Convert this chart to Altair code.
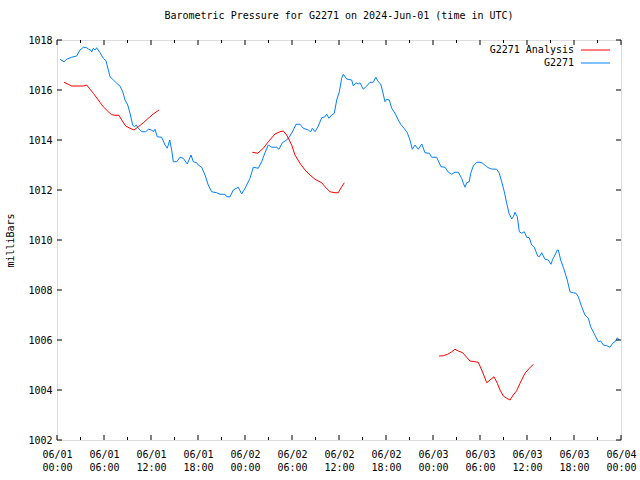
import altair as alt
import pandas as pd

MONO = "DejaVu Sans Mono"

# Observed station G2271 (hours since 2024-06-01 00:00 UTC, pressure in mb)
blue_h = [0.38, 0.89, 1.24, 1.88, 2.51, 2.94, 3.36, 3.79, 4.00, 4.30, 4.43, 4.63, 4.85, 5.07, 5.49, 5.91,
          6.26, 6.55, 6.77, 7.19, 7.62, 8.04, 8.39, 8.68, 9.03, 9.32, 9.66, 9.87, 10.12, 10.38, 10.81,
          11.32, 11.66, 12.09, 12.29, 12.51, 12.80, 13.37, 13.79, 14.08, 14.39, 14.64, 14.85, 15.28,
          15.70, 16.12, 16.63, 17.11, 17.40, 17.83, 18.04, 18.47, 18.89, 19.31, 19.75, 20.39, 20.81,
          21.45, 21.66, 22.09, 22.51, 23.14, 23.58, 24.00, 24.64, 25.06, 25.70, 26.13, 26.55, 26.97,
          27.41, 28.05, 28.34, 28.76, 29.32, 29.74, 30.17, 30.51, 31.02, 31.44, 32.08, 32.39, 32.59,
          32.94, 33.36, 33.79, 34.21, 34.43, 34.72, 35.07, 35.40, 35.71, 36.04, 36.34, 36.55, 36.98,
          37.62, 37.83, 38.17, 38.46, 38.68, 39.10, 39.54, 39.96, 40.38, 40.69, 41.02, 41.32, 41.58,
          41.87, 42.09, 42.42, 42.73, 43.15, 43.57, 43.88, 44.30, 44.72, 45.06, 45.36, 45.70, 46.12,
          46.56, 46.98, 47.53, 47.83, 48.47, 49.02, 49.53, 49.95, 50.39, 50.81, 51.23, 51.66, 51.87,
          52.09, 52.30, 52.63, 52.81, 53.14, 53.58, 54.00, 54.34, 54.86, 55.19, 55.49, 56.13, 56.46,
          56.77, 57.10, 57.41, 57.70, 58.05, 58.26, 58.47, 58.76, 59.02, 59.32, 59.66, 59.96, 60.29,
          60.60, 60.93, 61.37, 61.57, 61.88, 62.30, 62.72, 63.06, 63.28, 63.57, 63.87, 64.00, 64.30,
          64.72, 65.14, 65.49, 65.91, 66.26, 66.55, 66.98, 67.40, 67.83, 68.13, 68.55, 69.10, 69.41,
          69.74, 70.17, 70.60, 70.94, 71.23, 71.53, 71.79]
blue_p = [1017.23, 1017.13, 1017.23, 1017.31, 1017.36, 1017.60, 1017.71, 1017.69, 1017.64, 1017.60,
          1017.52, 1017.67, 1017.60, 1017.69, 1017.49, 1017.27, 1017.17, 1016.80, 1016.53, 1016.40,
          1016.27, 1016.16, 1015.93, 1015.60, 1015.40, 1015.07, 1014.60, 1014.53, 1014.60, 1014.47,
          1014.33, 1014.33, 1014.43, 1014.40, 1014.33, 1014.43, 1014.13, 1014.11, 1013.80, 1013.67,
          1014.00, 1013.60, 1013.13, 1013.13, 1013.31, 1013.27, 1013.04, 1013.40, 1013.13, 1013.09,
          1013.00, 1012.91, 1012.60, 1012.20, 1011.93, 1011.89, 1011.83, 1011.83, 1011.73, 1011.73,
          1012.00, 1012.11, 1011.84, 1012.07, 1012.47, 1012.91, 1012.87, 1013.13, 1013.49, 1013.80,
          1013.71, 1013.71, 1013.63, 1013.89, 1014.00, 1014.16, 1014.40, 1014.63, 1014.63, 1014.47,
          1014.40, 1014.33, 1014.47, 1014.33, 1014.56, 1014.89, 1014.93, 1015.03, 1014.87, 1015.00,
          1015.07, 1015.60, 1015.93, 1016.47, 1016.63, 1016.44, 1016.40, 1016.16, 1016.29, 1016.24,
          1016.29, 1016.03, 1016.16, 1016.31, 1016.31, 1016.51, 1016.33, 1016.24, 1015.93, 1015.53,
          1015.63, 1015.60, 1015.27, 1015.07, 1014.80, 1014.63, 1014.47, 1014.29, 1014.00, 1013.63,
          1013.80, 1013.63, 1013.84, 1013.49, 1013.47, 1013.31, 1013.31, 1012.93, 1012.91, 1012.71,
          1012.63, 1012.71, 1012.71, 1012.47, 1012.27, 1012.11, 1012.29, 1012.33, 1012.67, 1012.96,
          1013.11, 1013.11, 1013.07, 1012.93, 1012.87, 1012.84, 1012.83, 1012.67, 1012.33, 1011.93,
          1011.47, 1011.07, 1010.84, 1010.93, 1011.11, 1010.93, 1010.33, 1010.27, 1010.33, 1010.11,
          1010.09, 1009.80, 1009.71, 1009.36, 1009.33, 1009.49, 1009.23, 1009.20, 1009.03, 1009.23,
          1009.40, 1009.60, 1009.60, 1009.20, 1008.83, 1008.40, 1007.93, 1007.89, 1007.87, 1007.73,
          1007.33, 1007.00, 1006.87, 1006.53, 1006.27, 1005.93, 1005.96, 1005.80, 1005.77, 1005.71,
          1005.87, 1005.93, 1006.09, 1006.00]

# Analysis runs (three separate segments)
red1_h = [0.89, 1.44, 1.88, 3.36, 3.79, 4.12, 4.63, 5.27, 5.91, 6.55, 6.98, 7.40, 7.91, 8.26, 8.77,
          9.32, 9.83, 10.38, 11.02, 11.66, 12.29, 13.02]
red1_p = [1016.31, 1016.23, 1016.16, 1016.16, 1016.20, 1016.07, 1015.87, 1015.60, 1015.33, 1015.13,
          1015.01, 1014.99, 1014.99, 1014.80, 1014.56, 1014.47, 1014.40, 1014.53, 1014.69, 1014.87,
          1015.04, 1015.20]
red2_h = [24.93, 25.62, 26.34, 26.97, 27.83, 28.47, 28.89, 29.32, 29.96, 30.38, 31.02, 31.66, 32.30,
          32.94, 33.79, 34.21, 34.85, 35.49, 35.91, 36.34, 36.68]
red2_p = [1013.51, 1013.47, 1013.67, 1013.93, 1014.24, 1014.33, 1014.36, 1014.20, 1013.80, 1013.40,
          1013.07, 1012.80, 1012.60, 1012.43, 1012.29, 1012.13, 1011.93, 1011.89, 1011.89, 1012.13,
          1012.29]
red3_h = [48.77, 49.32, 49.88, 50.39, 50.81, 51.23, 51.79, 52.30, 52.72, 53.36, 53.78, 54.22, 54.86,
          55.28, 55.79, 56.21, 56.55, 56.98, 57.41, 57.83, 58.25, 58.68, 59.11, 59.74, 60.30, 60.81]
red3_p = [1005.36, 1005.37, 1005.43, 1005.53, 1005.63, 1005.56, 1005.49, 1005.31, 1005.16, 1005.13,
          1005.11, 1004.80, 1004.29, 1004.40, 1004.53, 1004.27, 1004.00, 1003.76, 1003.67, 1003.60,
          1003.80, 1003.97, 1004.27, 1004.67, 1004.87, 1005.03]

y_ticks = [1002, 1004, 1006, 1008, 1010, 1012, 1014, 1016, 1018]
x_major = [0, 6, 12, 18, 24, 30, 36, 42, 48, 54, 60, 66, 72]
x_minor = [3, 9, 15, 21, 27, 33, 39, 45, 51, 57, 63, 69]

series_names = ["G2271 Analysis", "G2271"]
series_colors = ["#ff0000", "#0080ff"]

frames = [pd.DataFrame({"h": blue_h, "p": blue_p, "series": "G2271", "seg": "obs"})]
for i, (hh, pp) in enumerate([(red1_h, red1_p), (red2_h, red2_p), (red3_h, red3_p)]):
    frames.append(pd.DataFrame({"h": hh, "p": pp, "series": "G2271 Analysis", "seg": f"an{i}"}))
df = pd.concat(frames, ignore_index=True)

W, H = 564, 400
xs = alt.Scale(domain=[0, 72], nice=False, zero=False)
ys = alt.Scale(domain=[1002, 1018], nice=False, zero=False)

label_expr = ("['06/0' + (floor(datum.value/24)+1), "
              "((datum.value%24) < 10 ? '0' : '') + (datum.value%24) + ':00']")

x_axis = alt.Axis(values=x_major, labelExpr=label_expr, title=None,
                  ticks=False, domain=False, grid=False, labelFlush=False, labelOverlap=False,
                  labelFont=MONO, labelFontSize=10, labelColor="black",
                  labelPadding=9, labelLineHeight=13, labelAngle=0)
y_axis = alt.Axis(values=y_ticks, format="d", title="milliBars", ticks=False,
                  domain=False, grid=False, labelFlush=False, labelOverlap=False, labelFont=MONO,
                  labelFontSize=10, labelColor="black", labelPadding=5,
                  titleFont=MONO, titleFontSize=10,
                  titleFontWeight="normal", titleColor="black",
                  titlePadding=12)

lines = alt.Chart(df).mark_line(strokeWidth=1, interpolate="linear").encode(
    x=alt.X("h:Q", scale=xs, axis=x_axis),
    y=alt.Y("p:Q", scale=ys, axis=y_axis),
    color=alt.Color("series:N", scale=alt.Scale(domain=series_names, range=series_colors),
                    legend=None),
    detail="seg:N",
)

ydf = pd.DataFrame({"p": y_ticks})
xmaj = pd.DataFrame({"h": x_major})
xmin = pd.DataFrame({"h": x_minor})

tick_layers = [
    alt.Chart(ydf).mark_rule(color="black", strokeWidth=1).encode(
        y=alt.Y("p:Q", scale=ys, axis=y_axis), x=alt.value(0), x2=alt.value(5)),
    alt.Chart(ydf).mark_rule(color="black", strokeWidth=1).encode(
        y=alt.Y("p:Q", scale=ys, axis=y_axis), x=alt.value(W), x2=alt.value(W - 5)),
    alt.Chart(xmaj).mark_rule(color="black", strokeWidth=1).encode(
        x=alt.X("h:Q", scale=xs, axis=x_axis), y=alt.value(H), y2=alt.value(H - 5)),
    alt.Chart(xmaj).mark_rule(color="black", strokeWidth=1).encode(
        x=alt.X("h:Q", scale=xs, axis=x_axis), y=alt.value(0), y2=alt.value(5)),
    alt.Chart(xmin).mark_rule(color="black", strokeWidth=1).encode(
        x=alt.X("h:Q", scale=xs, axis=x_axis), y=alt.value(H), y2=alt.value(H - 3)),
    alt.Chart(xmin).mark_rule(color="black", strokeWidth=1).encode(
        x=alt.X("h:Q", scale=xs, axis=x_axis), y=alt.value(0), y2=alt.value(3)),
]

one = pd.DataFrame({"k": [0]})
legend_layers = []
for i, (name, col) in enumerate(zip(series_names, series_colors)):
    yy = 10 + 13 * i
    legend_layers.append(alt.Chart(one).mark_text(align="right", baseline="middle", font=MONO,
                                                  fontSize=10, color="black").encode(
        x=alt.value(517), y=alt.value(yy), text=alt.value(name)))
    legend_layers.append(alt.Chart(one).mark_rule(color=col, strokeWidth=1).encode(
        x=alt.value(524), x2=alt.value(553), y=alt.value(yy)))

chart = alt.layer(lines, *tick_layers, *legend_layers).properties(
    width=W, height=H,
    title=alt.TitleParams("Barometric Pressure for G2271 on 2024-Jun-01 (time in UTC)",
                          font=MONO, fontSize=10, fontWeight="normal", color="black",
                          anchor="middle", offset=14),
    autosize=alt.AutoSizeParams(type="none"),
    padding={"left": 57, "top": 40, "right": 19, "bottom": 40},
).configure_view(stroke="black", strokeWidth=1).configure(background="white")

chart.save("out.html", embed_options={"renderer": "svg", "actions": False})
